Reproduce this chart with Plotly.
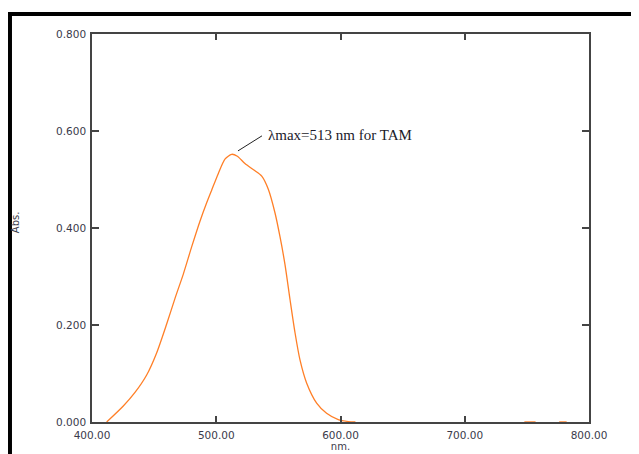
import plotly.graph_objects as go

# Absorption spectrum of TAM
wavelength_nm = [411.8, 425.2, 434.6, 444.0, 452.1, 460.1, 466.8, 473.5, 480.2, 486.9,
                 492.3, 496.3, 501.6, 507.0, 512.4, 517.0, 523.1, 530.0, 536.6, 541.9,
                 547.3, 551.3, 555.3, 559.4, 563.4, 567.4, 572.8, 580.8, 588.8, 598.2,
                 606.3, 612.0]
absorbance = [0.000, 0.033, 0.061, 0.097, 0.143, 0.202, 0.255, 0.305, 0.361, 0.414,
              0.452, 0.478, 0.512, 0.542, 0.552, 0.548, 0.533, 0.520, 0.507, 0.480,
              0.431, 0.382, 0.325, 0.252, 0.184, 0.128, 0.080, 0.039, 0.018, 0.005,
              0.001, 0.000]

# small baseline noise fragments near the far end
noise_nm = [748.0, 757.0, None, 776.0, 782.0]
noise_abs = [0.001, 0.001, None, 0.001, 0.001]

x_ticks = [400, 500, 600, 700, 800]
x_tick_labels = ["400.00", "500.00", "600.00", "700.00", "800.00"]
y_ticks = [0.0, 0.2, 0.4, 0.6, 0.8]
y_tick_labels = ["0.000", "0.200", "0.400", "0.600", "0.800"]

annotation_text = "λmax=513 nm for TAM"
peak_point = (517.5, 0.559)
leader_tail = (536.8, 0.590)
text_anchor = (540.0, 0.592)

ORANGE = "#ff7f27"
AXIS = "#444444"
TICKFONT = dict(family="DejaVu Sans", size=10.5, color="#3a3a4a")

fig = go.Figure()
fig.add_trace(go.Scatter(x=wavelength_nm, y=absorbance, mode="lines",
                         line=dict(color=ORANGE, width=1.3, shape="spline", smoothing=0.7),
                         hoverinfo="skip", showlegend=False))
fig.add_trace(go.Scatter(x=noise_nm, y=noise_abs, mode="lines",
                         line=dict(color=ORANGE, width=1.0), hoverinfo="skip",
                         showlegend=False, connectgaps=False, opacity=0.7))

fig.update_layout(
    width=631, height=446,
    margin=dict(l=84, r=50, t=26, b=32, autoexpand=False),
    paper_bgcolor="white", plot_bgcolor="white",
    showlegend=False,
    xaxis=dict(range=[400, 800], tickvals=x_ticks, ticktext=x_tick_labels,
               showgrid=False, zeroline=False, showline=True, linecolor=AXIS,
               linewidth=1.5, mirror="ticks", ticks="inside", ticklen=6,
               tickcolor=AXIS, tickwidth=1.5, tickfont=TICKFONT,
               ticklabelstandoff=3, automargin=False,
               title=dict(text="nm.", font=dict(family="DejaVu Sans", size=10, color="#3a3a4a"),
                          standoff=2)),
    yaxis=dict(range=[0, 0.8], tickvals=y_ticks, ticktext=y_tick_labels,
               showgrid=False, zeroline=False, showline=True, linecolor=AXIS,
               linewidth=1.5, mirror="ticks", ticks="inside", ticklen=7,
               tickcolor=AXIS, tickwidth=1.5, tickfont=TICKFONT,
               ticklabelstandoff=2, automargin=False),
    shapes=[
        # leader line to the peak
        dict(type="line", xref="x", yref="y", x0=peak_point[0], y0=peak_point[1],
             x1=leader_tail[0], y1=leader_tail[1], line=dict(color="#222222", width=1)),
        # black frame of the page (top and left bars)
        dict(type="rect", xref="paper", yref="paper", x0=-0.169, x1=1.2,
             y0=1.0464, y1=1.0567, fillcolor="black", line=dict(width=0)),
        dict(type="rect", xref="paper", yref="paper", x0=-0.169, x1=-0.161,
             y0=-0.2, y1=1.0567, fillcolor="black", line=dict(width=0)),
    ],
    annotations=[
        dict(x=text_anchor[0], y=text_anchor[1], xref="x", yref="y",
             text=annotation_text, showarrow=False, xanchor="left", yanchor="middle",
             font=dict(family="Liberation Serif", size=15, color="#1a1a2a")),
        dict(x=-0.155, y=0.515, xref="paper", yref="paper", text="Abs.",
             showarrow=False, textangle=-90, xanchor="center", yanchor="middle",
             font=dict(family="DejaVu Sans", size=10, color="#3a3a4a")),
    ],
)

fig.write_html("out.html")
